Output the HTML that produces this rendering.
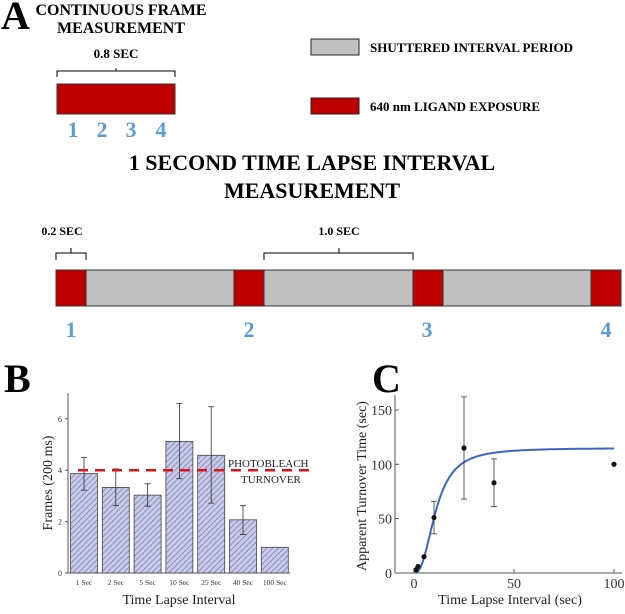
<!DOCTYPE html>
<html><head><meta charset="utf-8"><style>
body{margin:0;background:#fff;width:625px;height:609px;overflow:hidden}
svg{font-family:"Liberation Serif",serif}
</style></head><body>
<svg width="625" height="609" viewBox="0 0 625 609">
<defs>
<pattern id="hatch" width="4" height="4" patternUnits="userSpaceOnUse" patternTransform="rotate(45)">
<rect width="4" height="4" fill="#c9cbe6"/><line x1="0" y1="0" x2="0" y2="4" stroke="#6a6fb0" stroke-width="1.3"/>
</pattern>
</defs>
<g>
<text x="1" y="29" font-size="40" font-weight="bold">A</text>
<text x="121" y="15" font-size="16" font-weight="bold" text-anchor="middle">CONTINUOUS FRAME</text>
<text x="121" y="33" font-size="16" font-weight="bold" text-anchor="middle">MEASUREMENT</text>
<text x="116" y="58" font-size="13" font-weight="bold" text-anchor="middle">0.8 SEC</text>
<path d="M57,77 v-6 h59 v-3 v3 h59 v6" fill="none" stroke="#000" stroke-width="1"/>
<rect x="57" y="84" width="118" height="30" fill="#c00000" stroke="#333"/>
<g font-size="22" font-weight="bold" fill="#5b9bd5" text-anchor="middle">
<text x="73" y="137">1</text>
<text x="102" y="137">2</text>
<text x="131" y="137">3</text>
<text x="161" y="137">4</text>
</g>
<rect x="311" y="39" width="48" height="16" fill="#c0c0c0" stroke="#222"/>
<text x="370" y="52" font-size="13" font-weight="bold">SHUTTERED INTERVAL PERIOD</text>
<rect x="311" y="98" width="48" height="16" fill="#c00000" stroke="#222"/>
<text x="370" y="111" font-size="13" font-weight="bold">640 nm LIGAND EXPOSURE</text>
<text x="312" y="170" font-size="22" font-weight="bold" text-anchor="middle">1 SECOND TIME LAPSE INTERVAL</text>
<text x="312" y="198" font-size="22" font-weight="bold" text-anchor="middle">MEASUREMENT</text>
<text x="62" y="235" font-size="12" font-weight="bold" text-anchor="middle">0.2 SEC</text>
<path d="M56,260 v-7 h15 v-5 v5 h15 v7" fill="none" stroke="#000"/>
<text x="339" y="235" font-size="12" font-weight="bold" text-anchor="middle">1.0 SEC</text>
<path d="M264,260 v-7 h75 v-5 v5 h74 v7" fill="none" stroke="#000"/>
<rect x="56" y="270" width="565" height="36" fill="#c0c0c0" stroke="#333"/>
<rect x="56" y="270" width="30" height="36" fill="#c00000" stroke="#333"/>
<rect x="234" y="270" width="30" height="36" fill="#c00000" stroke="#333"/>
<rect x="413" y="270" width="30" height="36" fill="#c00000" stroke="#333"/>
<rect x="591" y="270" width="30" height="36" fill="#c00000" stroke="#333"/>
<g font-size="22" font-weight="bold" fill="#5b9bd5" text-anchor="middle">
<text x="71" y="337">1</text>
<text x="249" y="337">2</text>
<text x="427" y="337">3</text>
<text x="606" y="337">4</text>
</g>
</g>
<text x="4" y="392" font-size="40" font-weight="bold">B</text>
<text x="372" y="392" font-size="40" font-weight="bold">C</text>
<g id="chartB"></g>
<g id="chartC"></g>
</svg>
<script>
const bCats=["1 Sec","2 Sec","5 Sec","10 Sec","25 Sec","40 Sec","100 Sec"];
const bVals=[3.87,3.33,3.03,5.12,4.58,2.07,1.0];
const bLo=[3.22,2.62,2.6,3.67,2.72,1.5,1.0];
const bHi=[4.5,4.05,3.47,6.6,6.47,2.62,1.0];
const bTicks=[0,2,4,6];
const bThreshold=4;
const cX=[1,2,5,10,25,40,100];
const cY=[3,6,15,51,115,83,100];
const cLo=[3,6,15,36,68,61,100];
const cHi=[3,6,15,66,162,105,100];
const cXTicks=[0,50,100];
const cYTicks=[0,50,100,150];
const fitMax=115, fitK=11, fitN=2.5;
const NS="http://www.w3.org/2000/svg";
function mk(p,t,a){const e=document.createElementNS(NS,t);for(const k in a)e.setAttribute(k,a[k]);p.appendChild(e);return e;}
// Chart B
const gB=document.getElementById('chartB');
const bx0=68,bx1=290,by0=573;
const byS=v=>by0-v*25.7;
const bxC=i=>84+i*31.8;
mk(gB,'line',{x1:bx0,y1:393,x2:bx0,y2:by0,stroke:'#555'});
mk(gB,'line',{x1:bx0,y1:by0,x2:bx1,y2:by0,stroke:'#555'});
bTicks.forEach(t=>{
 const l=mk(gB,'line',{x1:bx0-3,y1:byS(t),x2:bx0,y2:byS(t),stroke:'#555'});
 
 const tx=mk(gB,'text',{x:bx0-6,y:byS(t)+3,'font-size':8,'text-anchor':'end',fill:'#333'});tx.textContent=t;
 
 
});
bVals.forEach((v,i)=>{
 const r=mk(gB,'rect',{x:bxC(i)-13.5,y:byS(v),width:27,height:by0-byS(v),fill:'url(#hatch)',stroke:'#444','stroke-width':0.8});
 
 
 if(bHi[i]>bLo[i]){
  const c=bxC(i);
  const e=mk(gB,'path',{d:`M${c},${byS(bHi[i])}V${byS(bLo[i])}M${c-3},${byS(bHi[i])}h6M${c-3},${byS(bLo[i])}h6`,stroke:'#333',fill:'none','stroke-width':0.8});
  
  
 }
 const tx=mk(gB,'text',{x:bxC(i),y:by0+12,'font-size':7.5,'text-anchor':'middle',fill:'#333'});tx.textContent=bCats[i];
 
 
});
const th=mk(gB,'line',{x1:78,y1:byS(bThreshold),x2:315,y2:byS(bThreshold),stroke:'#e0101a','stroke-width':2.5,'stroke-dasharray':'10,7'});


let t1=mk(gB,'text',{x:228,y:467,'font-size':11,fill:'#222'});t1.textContent='PHOTOBLEACH';


let t2=mk(gB,'text',{x:241,y:483,'font-size':11,fill:'#222'});t2.textContent='TURNOVER';


let yl=mk(gB,'text',{x:0,y:0,'font-size':14,'text-anchor':'middle',transform:'translate(52,483) rotate(-90)',fill:'#222'});yl.textContent='Frames (200 ms)';


let xl=mk(gB,'text',{x:179,y:604,'font-size':14,'text-anchor':'middle',fill:'#222'});xl.textContent='Time Lapse Interval';


// Chart C
const gC=document.getElementById('chartC');
const cx0=395,cy0=573;
const cxS=v=>414+v*2.0;
const cyS=v=>cy0-v*1.087;
mk(gC,'line',{x1:cx0,y1:395,x2:cx0,y2:cy0,stroke:'#555'});
mk(gC,'line',{x1:cx0,y1:cy0,x2:622,y2:cy0,stroke:'#555'});
cYTicks.forEach(t=>{
 mk(gC,'line',{x1:cx0,y1:cyS(t),x2:cx0+4,y2:cyS(t),stroke:'#555'});
 const tx=mk(gC,'text',{x:cx0-3,y:cyS(t)+5,'font-size':14,'text-anchor':'end',fill:'#333'});tx.textContent=t;
 
 
});
cXTicks.forEach(t=>{
 mk(gC,'line',{x1:cxS(t),y1:cy0,x2:cxS(t),y2:cy0-4,stroke:'#555'});
 const tx=mk(gC,'text',{x:cxS(t),y:cy0+15,'font-size':14,'text-anchor':'middle',fill:'#333'});tx.textContent=t;
 
 
});
// fitted Hill curve (model, not data)
let d='';for(let x=1;x<=100;x+=0.5){const y=fitMax*Math.pow(x,fitN)/(Math.pow(fitK,fitN)+Math.pow(x,fitN));d+=(d?'L':'M')+cxS(x).toFixed(1)+','+cyS(y).toFixed(1);}
const fit=mk(gC,'path',{d:d,fill:'none',stroke:'#3a66c4','stroke-width':2});


cX.forEach((x,i)=>{
 if(cHi[i]>cLo[i]){
  const c=cxS(x);
  const e=mk(gC,'path',{d:`M${c},${cyS(cHi[i])}V${cyS(cLo[i])}M${c-3},${cyS(cHi[i])}h6M${c-3},${cyS(cLo[i])}h6`,stroke:'#333',fill:'none','stroke-width':0.8});
  
  
 }
 const p=mk(gC,'circle',{cx:cxS(x),cy:cyS(cY[i]),r:2.6,fill:'#111'});
 
 
});
let cyl=mk(gC,'text',{x:0,y:0,'font-size':14,'text-anchor':'middle',transform:'translate(366,486) rotate(-90)',fill:'#222'});cyl.textContent='Apparent Turnover Time (sec)';


let cxl=mk(gC,'text',{x:510,y:604,'font-size':14,'text-anchor':'middle',fill:'#222'});cxl.textContent='Time Lapse Interval (sec)';


</script>
</body></html>
